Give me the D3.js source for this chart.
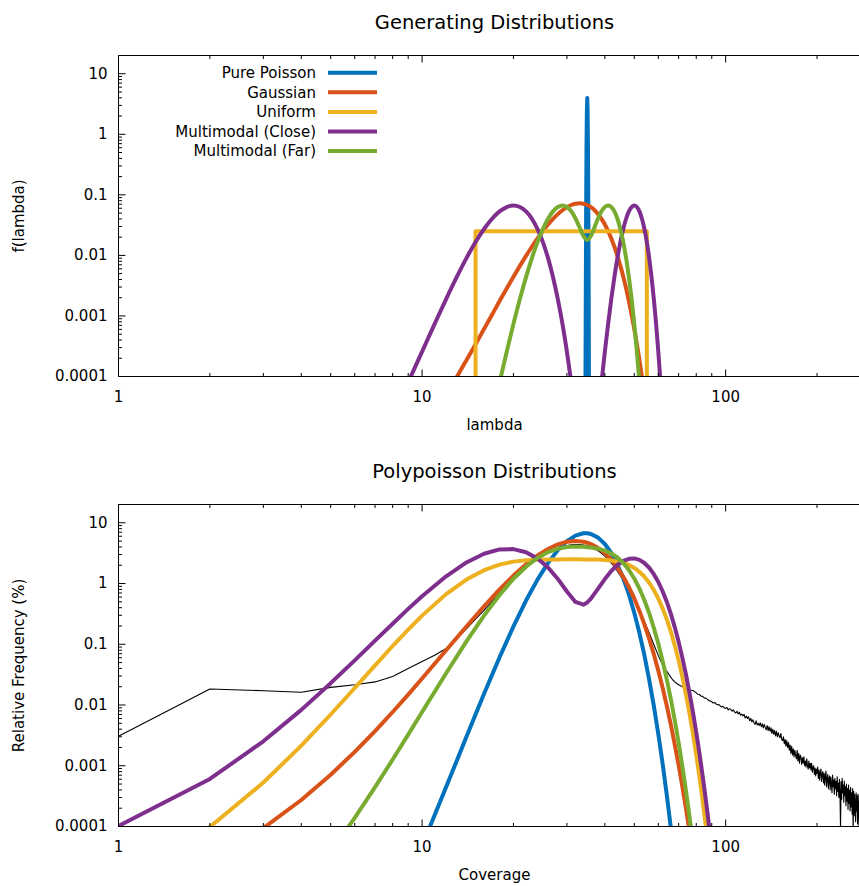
<!DOCTYPE html>
<html>
<head>
<meta charset="utf-8">
<script src="https://cdn.jsdelivr.net/npm/d3@7"></script>
<style>
  body { margin: 0; background: #fff; }
  text { font-family: "DejaVu Sans", sans-serif; }
</style>
</head>
<body>
<script>
// legend / series
const seriesNames = ["Pure Poisson", "Gaussian", "Uniform", "Multimodal (Close)", "Multimodal (Far)"];
const seriesColors = ["#0072bd", "#d95319", "#edb120", "#7e2f8e", "#77ac30"];

// ---- generating distributions f(lambda) ----
const poissonLambda = [34.5, 34.6, 34.7, 34.8, 34.9, 35, 35.1, 35.2, 35.3, 35.4, 35.5];
const poissonF = [1.5e-5, 1.34e-3, 0.0443, 0.54, 2.42, 3.99, 2.42, 0.54, 0.0443, 1.34e-3, 1.5e-5];

const gaussLambda = [11, 12, 13, 14, 15, 16, 17, 18, 19, 20, 21, 22, 23, 24, 25, 26, 27, 28, 29, 30, 31, 32, 33,
  34, 35, 36, 37, 38, 39, 40, 41, 42, 43, 44, 45, 46, 47, 48, 49, 50, 51, 52, 53, 54, 55];
const gaussF = [2.43e-5, 4.95e-5, 9.74e-5, 1.86e-4, 3.42e-4, 6.1e-4, 1.05e-3, 1.76e-3, 2.84e-3, 4.44e-3, 6.71e-3,
  9.81e-3, 0.01388, 0.019, 0.0252, 0.0323, 0.04, 0.048, 0.0557, 0.0625, 0.0679, 0.0713, 0.0725,
  0.0713, 0.0679, 0.0625, 0.0557, 0.048, 0.04, 0.0323, 0.0252, 0.019, 0.01388, 9.81e-3, 6.71e-3,
  4.44e-3, 2.84e-3, 1.76e-3, 1.05e-3, 6.1e-4, 3.42e-4, 1.86e-4, 9.74e-5, 4.95e-5, 2.43e-5];

const uniformLambda = [15, 15, 55, 55];
const uniformF = [1e-5, 0.025, 0.025, 1e-5];

const closeLambda = [8, 9, 10, 11, 12, 13, 14, 15, 16, 17, 18, 19, 20, 21, 22, 23, 24, 25, 26, 27, 28, 29, 30, 31,
  32, 33, 34, 35, 36, 37, 38, 39, 40, 41, 42, 43, 44, 45, 46, 47, 48, 49, 50, 51, 52, 53, 54, 55, 56, 57, 58,
  59, 60, 61, 62];
const closeF = [2.23e-5, 8.0e-5, 2.57e-4, 7.39e-4, 1.9e-3, 4.37e-3, 9.0e-3, 0.0166, 0.0273, 0.0403, 0.0533,
  0.0629, 0.0665, 0.0629, 0.0533, 0.0403, 0.0273, 0.0166, 9.0e-3, 4.37e-3, 1.9e-3, 7.39e-4, 2.57e-4, 8.0e-5,
  2.23e-5, 5.6e-6, 1.28e-6, 5.0e-7, 1.28e-6, 5.6e-6, 2.23e-5, 8.0e-5, 2.57e-4, 7.39e-4, 1.9e-3, 4.37e-3,
  9.0e-3, 0.0166, 0.0273, 0.0403, 0.0533, 0.0629, 0.0665, 0.0629, 0.0533, 0.0403, 0.0273, 0.0166, 9.0e-3,
  4.37e-3, 1.9e-3, 7.39e-4, 2.57e-4, 8.0e-5, 2.23e-5];

const farLambda = [17, 18, 19, 20, 21, 22, 23, 24, 25, 26, 27, 28, 29, 30, 31, 32, 33, 34, 35, 36, 37, 38, 39,
  40, 41, 42, 43, 44, 45, 46, 47, 48, 49, 50, 51, 52, 53];
const farF = [2.23e-5, 8.0e-5, 2.57e-4, 7.39e-4, 1.9e-3, 4.37e-3, 9.0e-3, 0.0166, 0.0273, 0.0403, 0.0533,
  0.0629, 0.0665, 0.063, 0.0536, 0.041, 0.0292, 0.021, 0.018, 0.021, 0.0292, 0.041, 0.0536, 0.063, 0.0665,
  0.0629, 0.0533, 0.0403, 0.0273, 0.0166, 9.0e-3, 4.37e-3, 1.9e-3, 7.39e-4, 2.57e-4, 8.0e-5, 2.23e-5];

// ---- polypoisson distributions, relative frequency (%) ----
const coverage = [1, 2, 3, 4, 5, 6, 7, 8, 9, 10, 12, 14, 16, 18, 20, 22, 24, 26, 28, 30, 32, 34, 35, 36, 38, 40,
  42, 44, 46, 48, 50, 52, 54, 56, 58, 60, 62, 64, 66, 68, 70, 72, 74, 76, 78, 80, 82, 84, 86, 88, 90];

const poissonPct = [null, null, null, null, null, null, null, null, 1.37e-5, 4.8e-5, 4.45e-4, 2.99e-3, 0.01528,
  0.0612, 0.197, 0.524, 1.161, 2.188, 3.544, 4.989, 6.163, 6.728, 6.728, 6.541, 5.697, 4.476, 3.184, 2.061,
  1.22, 0.662, 0.331, 0.1529, 0.0655, 0.026, 0.00966, 0.00334, 0.00108, 3.28e-4, 9.38e-5, 2.52e-5,
  null, null, null, null, null, null, null, null, null, null, null];

const gaussPct = [null, 2.8e-5, 9.4e-5, 2.73e-4, 7.13e-4, 0.00169, 0.00373, 0.00767, 0.01486, 0.0273, 0.0797,
  0.1966, 0.422, 0.7985, 1.353, 2.069, 2.887, 3.706, 4.404, 4.87, 5.026, 4.875, 4.699, 4.463, 3.848, 3.16,
  2.462, 1.829, 1.29, 0.874, 0.568, 0.354, 0.213, 0.1227, 0.0685, 0.0368, 0.01917, 0.00966, 0.00471,
  0.002216, 0.00102, 4.55e-4, 1.98e-4, 8.36e-5, null, null, null, null, null, null, null];

const uniformPct = [1.22e-5, 9.83e-5, 5.29e-4, 2.14e-3, 6.98e-3, 0.01908, 0.045, 0.0936, 0.1746, 0.2962, 0.669,
  1.164, 1.66, 2.049, 2.293, 2.418, 2.472, 2.492, 2.498, 2.499, 2.499, 2.496, 2.493, 2.489, 2.475, 2.447,
  2.396, 2.313, 2.19, 2.021, 1.808, 1.561, 1.295, 1.029, 0.781, 0.565, 0.39, 0.256, 0.16, 0.095, 0.0538,
  0.029, 0.0149, 0.0073, 0.00341, 0.00152, 6.49e-4, 2.65e-4, 1.03e-4, 3.9e-5, null];

const closePct = [1.02e-4, 6.06e-4, 0.00253, 0.00832, 0.0229, 0.0544, 0.1147, 0.218, 0.382, 0.618, 1.316, 2.224,
  3.095, 3.642, 3.688, 3.275, 2.587, 1.835, 1.19, 0.74, 0.4985, 0.449, 0.4877, 0.565, 0.822, 1.186, 1.609,
  2.019, 2.359, 2.551, 2.592, 2.455, 2.174, 1.817, 1.425, 1.06, 0.746, 0.497, 0.316, 0.19, 0.1096, 0.0602,
  0.0318, 0.0159, 0.0077, 0.00356, 0.00159, 6.78e-4, 2.8e-4, 1.11e-4, 4.25e-5];

const farPct = [null, null, null, null, 3.77e-5, 1.39e-4, 4.44e-4, 1.267e-3, 3.26e-3, 7.67e-3, 0.0334, 0.1115,
  0.2964, 0.6485, 1.196, 1.893, 2.64, 3.292, 3.747, 3.986, 4.059, 4.016, 3.963, 3.911, 3.746, 3.482, 3.131,
  2.686, 2.181, 1.673, 1.209, 0.826, 0.531, 0.324, 0.1864, 0.102, 0.053, 0.0262, 0.01234, 0.00556, 0.00239,
  9.8e-4, 3.87e-4, 1.47e-4, 5.34e-5, null, null, null, null, null, null];

// observed coverage histogram, coverage 1 .. 285
const observedPct = [
  0.00305, 0.0184, 0.0172, 0.0162, 0.0195, 0.0215, 0.024, 0.0295, 0.04, 0.052,
  0.066, 0.085, 0.125, 0.18, 0.26, 0.36, 0.51, 0.7, 0.94, 1.22,
  1.55, 1.9, 2.25, 2.6, 2.95, 3.28, 3.58, 3.85, 4.07, 4.23,
  4.33, 4.38, 4.37, 4.3, 4.17, 3.98, 3.74, 3.46, 3.15, 2.83,
  2.5, 2.18, 1.88, 1.6, 1.35, 1.13, 0.94, 0.78, 0.645, 0.53,
  0.435, 0.355, 0.29, 0.235, 0.19, 0.153, 0.123, 0.099, 0.08, 0.065,
  0.054, 0.046, 0.04, 0.036, 0.032, 0.0285, 0.0258, 0.024, 0.0226, 0.0215,
  0.0207, 0.0201, 0.0194, 0.0186, 0.0179, 0.0176, 0.0175, 0.0173, 0.0166, 0.0159,
  0.015, 0.0149, 0.014, 0.0139, 0.0131, 0.013, 0.0125, 0.0118, 0.0117, 0.0113,
  0.0108, 0.011, 0.0104, 0.0101, 0.0102, 0.0096, 0.0093, 0.0095, 0.009, 0.0088,
  0.0091, 0.0083, 0.0087, 0.0084, 0.0079, 0.0083, 0.0077, 0.0074, 0.0079, 0.0071,
  0.0076, 0.0068, 0.0071, 0.0066, 0.007, 0.0061, 0.0066, 0.006, 0.0064, 0.0055,
  0.006, 0.0053, 0.0057, 0.0051, 0.0048, 0.0055, 0.0047, 0.005, 0.0046, 0.0051,
  0.0044, 0.0049, 0.0042, 0.0048, 0.0043, 0.0039, 0.0046, 0.0038, 0.0044, 0.0037,
  0.0042, 0.0034, 0.004, 0.0033, 0.0038, 0.0031, 0.0037, 0.003, 0.0035, 0.0031,
  0.0029, 0.0034, 0.0027, 0.0026, 0.003, 0.0023, 0.0027, 0.0021, 0.0026, 0.002,
  0.0024, 0.0018, 0.0022, 0.0016, 0.0021, 0.0015, 0.0019, 0.0014, 0.0018, 0.0015,
  0.0013, 0.0018, 0.0012, 0.0016, 0.0011, 0.0015, 0.0014, 0.00105, 0.00135, 0.0011,
  0.0014, 0.001, 0.0012, 0.00095, 0.0013, 0.001, 0.00088, 0.0012, 0.00092, 0.0011,
  0.00085, 0.0011, 0.00078, 0.00095, 0.001, 0.00072, 0.00092, 0.00068, 0.00088, 0.00075,
  0.00095, 0.00062, 0.00085, 0.00058, 0.00078, 0.00088, 0.00055, 0.00072, 0.0008, 0.00052,
  0.00075, 0.00048, 0.00068, 0.00082, 0.00045, 0.00062, 0.00072, 0.00042, 0.0006, 0.00068,
  0.0004, 0.00065, 0.00052, 0.00036, 0.0007, 0.00045, 0.00058, 0.00034, 0.00062, 0.00042,
  0.00055, 0.00032, 0.00066, 0.00038, 0.00052, 0.0003, 0.0006, 0.00035, 0.00009, 0.00055,
  0.00028, 0.00062, 0.00036, 0.00048, 0.00025, 0.00056, 0.00032, 0.00045, 0.00022, 0.0005,
  0.00026, 0.00042, 0.00019, 0.00048, 0.00024, 0.0004, 0.00018, 0.00044, 0.00021, 0.00036,
  0.00016, 0.00042, 0.00008, 0.00038, 0.00015, 0.00034, 0.00022, 0.00012, 0.00036, 0.00018,
  0.00032, 0.00011, 0.00034, 0.0002, 0.0001, 0.0003, 0.00016, 0.00028, 0.0001, 0.00026,
  0.00014, 0.00024, 0.00009, 0.00022, 0.00012
];

// axis ticks
const xTickValues = [1, 10, 100];
const xTickLabels = ["1", "10", "100"];
const yTickValues = [1e-4, 1e-3, 1e-2, 0.1, 1, 10];
const yTickLabels = ["0.0001", "0.001", "0.01", "0.1", "1", "10"];

const width = 859, height = 886;
const svg = d3.select("body").append("svg")
  .attr("width", width)
  .attr("height", height);

const x = d3.scaleLog().domain([1, 300]).range([118.5, 870.5]);

const xMinor = [];
xTickValues.forEach(d => [2, 3, 4, 5, 6, 7, 8, 9].forEach(m => { if (d * m <= 300) xMinor.push(d * m); }));
const yMinor = [];
yTickValues.forEach(d => [2, 3, 4, 5, 6, 7, 8, 9].forEach(m => { if (d * m <= 20) yMinor.push(d * m); }));

function drawPanel(top, bottom, title, xLabel, yLabel, series, clipId, legend) {
  const y = d3.scaleLog().domain([1e-4, 20]).range([bottom, top]);
  const g = svg.append("g");

  g.append("clipPath").attr("id", clipId)
    .append("rect")
    .attr("x", x.range()[0]).attr("y", top)
    .attr("width", x.range()[1] - x.range()[0])
    .attr("height", bottom - top);

  const plot = g.append("g").attr("clip-path", `url(#${clipId})`);
  series.forEach(s => {
    const line = d3.line()
      .defined(d => d[1] != null)
      .x(d => x(d[0]))
      .y(d => y(d[1]))
      .curve(s.curve || d3.curveLinear);
    plot.append("path")
      .datum(d3.zip(s.xs, s.ys))
      .attr("fill", "none")
      .attr("stroke", s.color)
      .attr("stroke-width", s.width)
      .attr("stroke-linejoin", "round")
      .attr("d", line);
  });

  // axes (ticks inward, mirrored on top)
  const fmtX = d => xTickLabels[xTickValues.indexOf(d)];
  const fmtY = d => yTickLabels[yTickValues.indexOf(d)];

  g.append("g").attr("transform", `translate(${x.range()[0]},0)`)
    .call(d3.axisLeft(y).tickValues(yTickValues).tickFormat(fmtY).tickSize(-7).tickSizeOuter(0).tickPadding(11).offset(0));
  g.append("g").attr("transform", `translate(${x.range()[0]},0)`)
    .call(d3.axisLeft(y).tickValues(yMinor).tickFormat("").tickSize(-3.5).tickSizeOuter(0).offset(0))
    .call(a => a.select(".domain").remove());

  g.append("g").attr("transform", `translate(0,${bottom})`)
    .call(d3.axisBottom(x).tickValues(xTickValues).tickFormat(fmtX).tickSize(-7).tickSizeOuter(0).tickPadding(15).offset(0));
  g.append("g").attr("transform", `translate(0,${bottom})`)
    .call(d3.axisBottom(x).tickValues(xMinor).tickFormat("").tickSize(-3.5).tickSizeOuter(0).offset(0))
    .call(a => a.select(".domain").remove());

  g.append("g").attr("transform", `translate(0,${top})`)
    .call(d3.axisTop(x).tickValues(xTickValues).tickFormat("").tickSize(-7).tickSizeOuter(0).offset(0));
  g.append("g").attr("transform", `translate(0,${top})`)
    .call(d3.axisTop(x).tickValues(xMinor).tickFormat("").tickSize(-3.5).tickSizeOuter(0).offset(0))
    .call(a => a.select(".domain").remove());

  g.selectAll(".tick text").attr("font-size", 15).attr("fill", "#000");
  g.selectAll(".domain, .tick line").attr("stroke", "#000").attr("stroke-width", 1);

  // titles
  g.append("text")
    .attr("x", 494.5).attr("y", top - 27)
    .attr("text-anchor", "middle")
    .attr("font-size", 19.5)
    .text(title);
  g.append("text")
    .attr("x", 494.5).attr("y", bottom + 53.5)
    .attr("text-anchor", "middle")
    .attr("font-size", 15)
    .text(xLabel);
  g.append("text")
    .attr("transform", `translate(24,${(top + bottom) / 2}) rotate(-90)`)
    .attr("text-anchor", "middle")
    .attr("font-size", 15)
    .text(yLabel);

  if (legend) {
    seriesNames.forEach((name, i) => {
      const ly = 72.7 + i * 19.6;
      g.append("text")
        .attr("x", 316).attr("y", ly + 5.2)
        .attr("text-anchor", "end")
        .attr("font-size", 15)
        .text(name);
      g.append("line")
        .attr("x1", 328).attr("x2", 377)
        .attr("y1", ly).attr("y2", ly)
        .attr("stroke", seriesColors[i])
        .attr("stroke-width", 4);
    });
  }
}

// top: generating distributions
drawPanel(55.5, 376.5, "Generating Distributions", "lambda", "f(lambda)", [
  { xs: poissonLambda, ys: poissonF, color: seriesColors[0], width: 4 },
  { xs: gaussLambda, ys: gaussF, color: seriesColors[1], width: 4, curve: d3.curveMonotoneX },
  { xs: uniformLambda, ys: uniformF, color: seriesColors[2], width: 4 },
  { xs: closeLambda, ys: closeF, color: seriesColors[3], width: 4, curve: d3.curveMonotoneX },
  { xs: farLambda, ys: farF, color: seriesColors[4], width: 4, curve: d3.curveMonotoneX }
], "clipTop", true);

// bottom: polypoisson distributions
const observedCoverage = observedPct.map((d, i) => i + 1);
drawPanel(504.5, 826.5, "Polypoisson Distributions", "Coverage", "Relative Frequency (%)", [
  { xs: observedCoverage, ys: observedPct, color: "#000", width: 1.1 },
  { xs: coverage, ys: poissonPct, color: seriesColors[0], width: 4 },
  { xs: coverage, ys: gaussPct, color: seriesColors[1], width: 4 },
  { xs: coverage, ys: uniformPct, color: seriesColors[2], width: 4 },
  { xs: coverage, ys: closePct, color: seriesColors[3], width: 4 },
  { xs: coverage, ys: farPct, color: seriesColors[4], width: 4 }
], "clipBottom", false);
</script>
</body>
</html>
